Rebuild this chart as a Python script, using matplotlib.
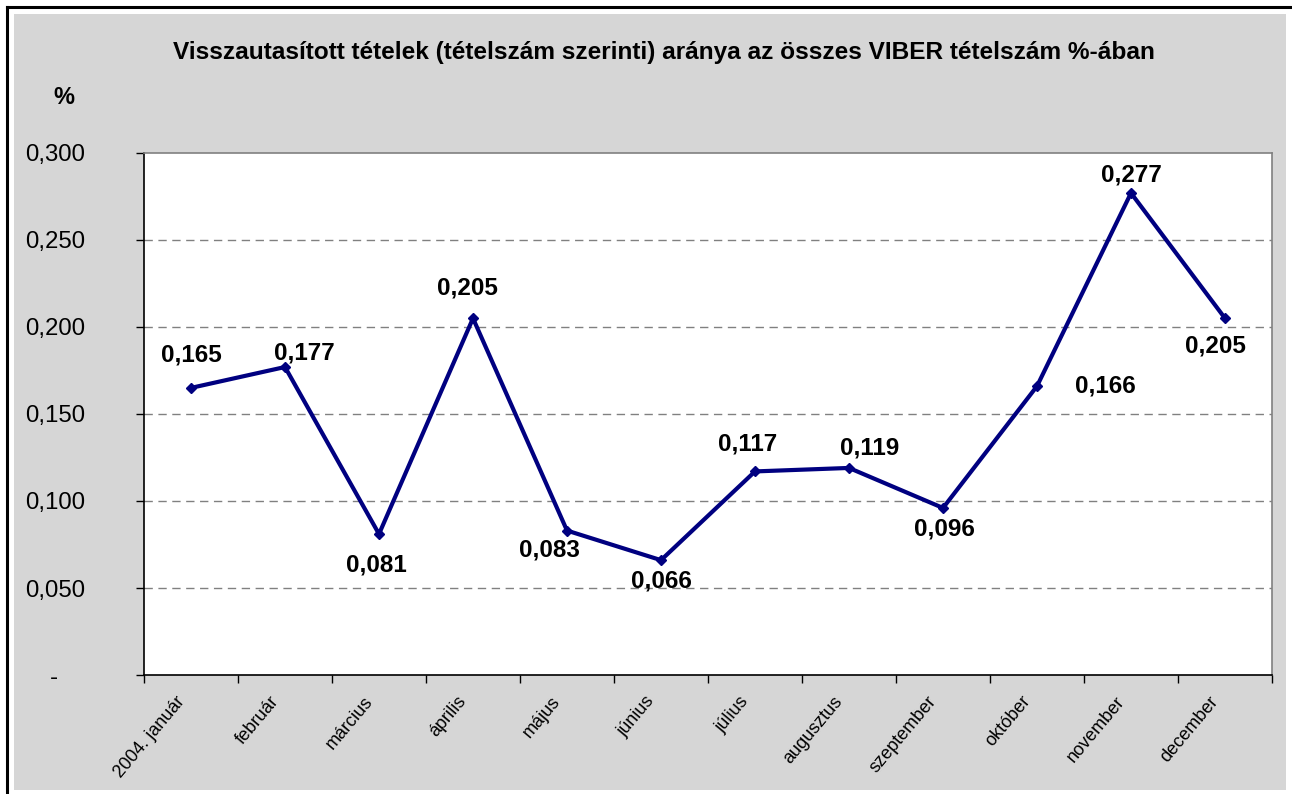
import matplotlib
matplotlib.use("Agg")
import matplotlib.pyplot as plt
import matplotlib.transforms as mtransforms
from matplotlib.patches import Rectangle
from matplotlib.lines import Line2D

months = ["2004. január", "február", "március", "április", "május", "június",
          "július", "augusztus", "szeptember", "október", "november", "december"]
values = [0.165, 0.177, 0.081, 0.205, 0.083, 0.066, 0.117, 0.119, 0.096, 0.166, 0.277, 0.205]
value_labels = ["0,165", "0,177", "0,081", "0,205", "0,083", "0,066",
                "0,117", "0,119", "0,096", "0,166", "0,277", "0,205"]
yticks = [0.0, 0.05, 0.10, 0.15, 0.20, 0.25, 0.30]
ytick_labels = ["-    ", "0,050", "0,100", "0,150", "0,200", "0,250", "0,300"]
title = "Visszautasított tételek (tételszám szerinti) aránya az összes VIBER tételszám %-ában"

# label offsets in points (styling)
offsets = [(0, 24), (14, 10), (-2, -22), (-4, 22), (-13, -14), (0, -15),
           (-5, 20), (15, 14), (1, -15), (49, 0), (0, 13), (-7, -20)]

plt.rcParams['font.family'] = ['Liberation Sans', 'DejaVu Sans']
W, H = 1292, 794
fig = plt.figure(figsize=(W / 100, H / 100), dpi=100)
fig.patch.set_facecolor('white')

# background panel and outer border
fig.patches.append(Rectangle((14 / W, 1 - 790 / H), (1286 - 14) / W, (790 - 14) / H,
                             transform=fig.transFigure, facecolor='#d6d6d6',
                             edgecolor='none', zorder=-5))
fig.lines.append(Line2D([7 / W, 7 / W], [0, 1 - 7 / H], transform=fig.transFigure,
                        color='black', lw=2.2, zorder=-4))
fig.lines.append(Line2D([7 / W, 1], [1 - 7 / H, 1 - 7 / H], transform=fig.transFigure,
                        color='black', lw=2.2, zorder=-4))

ax = fig.add_axes([144 / W, 1 - 675 / H, (1272 - 144) / W, (675 - 153) / H])
ax.set_facecolor('white')
x = list(range(len(months)))
ax.plot(x, values, color='#000080', lw=3.0, marker='D', markersize=5, zorder=3)
ax.set_xlim(-0.5, len(months) - 0.5)
ax.set_ylim(0, 0.30)

for xi, v, lab, off in zip(x, values, value_labels, offsets):
    ax.annotate(lab, (xi, v), xytext=off, textcoords='offset points',
                ha='center', va='center', fontsize=17.5, fontweight='bold', zorder=4)

ax.set_yticks(yticks)
ax.set_yticklabels(ytick_labels, fontsize=17.3)
ax.tick_params(axis='y', direction='out', length=6, width=1, pad=36.5)
for gy in yticks[1:-1]:
    ax.axhline(gy, color='#808080', lw=1, ls=(0, (6, 4)), zorder=1)

ax.set_xticks([i - 0.5 for i in range(len(months) + 1)], minor=False)
ax.set_xticklabels([])
ax.set_xticks(x, minor=True)
ax.set_xticklabels(months, minor=True, rotation=50, ha='right', va='top',
                   rotation_mode='anchor', fontsize=13)
ax.tick_params(axis='x', which='major', direction='out', length=6, width=1)
ax.tick_params(axis='x', which='minor', length=0, pad=13)
shift = mtransforms.ScaledTranslation(-16 / 100, 0, fig.dpi_scale_trans)
for lbl in ax.get_xticklabels(minor=True):
    lbl.set_transform(lbl.get_transform() + shift)

for s in ['left', 'bottom']:
    ax.spines[s].set_color('black')
    ax.spines[s].set_linewidth(1.2)
for s in ['top', 'right']:
    ax.spines[s].set_color('#808080')
    ax.spines[s].set_linewidth(1.2)

fig.text(664 / W, 1 - 53 / H, title, ha='center', va='center', fontsize=17.6,
         fontweight='bold')
fig.text(64 / W, 1 - 98 / H, "%", ha='center', va='center', fontsize=17,
         fontweight='bold')

fig.savefig("out.png", dpi=100)
